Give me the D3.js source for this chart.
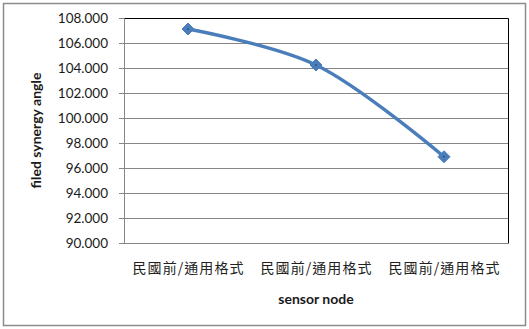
<!DOCTYPE html>
<html>
<head>
<meta charset="utf-8">
<script src="https://cdn.jsdelivr.net/npm/d3@7"></script>
<style>
  body { margin: 0; background: #fff; }
  text { font-family: Lato, "Open Sans", sans-serif; }
</style>
</head>
<body>
<svg id="chart" width="529" height="329"></svg>
<script>
// data
var categories = ["民國前/通用格式 ", "民國前/通用格式  ", "民國前/通用格式   "];
var values = [107.12, 104.24, 96.9];
var yTicks = [90, 92, 94, 96, 98, 100, 102, 104, 106, 108];

var svg = d3.select("#chart");
var margin = {top: 18, left: 124, right: 21, bottom: 86};
var width = 529 - margin.left - margin.right,
    height = 329 - margin.top - margin.bottom;

// chart frame
svg.append("rect")
    .attr("x", 3.5).attr("y", 3.5)
    .attr("width", 522).attr("height", 322)
    .style("fill", "#fff")
    .style("stroke", "#8c8c8c")
    .style("stroke-width", 1.5);

var g = svg.append("g")
    .attr("transform", "translate(" + margin.left + "," + margin.top + ")");

var x = d3.scaleBand().domain(categories).range([0, width]);
var y = d3.scaleLinear().domain([90, 108]).range([height, 0]);

// gridlines
g.selectAll(".grid")
    .data(yTicks)
    .enter()
    .append("line")
    .attr("x1", 0).attr("x2", width)
    .attr("y1", function(d){ return Math.round(y(d)) + 0.5; })
    .attr("y2", function(d){ return Math.round(y(d)) + 0.5; })
    .style("stroke", "#868686")
    .style("stroke-width", 1);

// black top/right plot border
g.append("path")
    .attr("d", "M0,0.5H" + (width + 0.5) + "V" + (height + 0.5))
    .style("fill", "none")
    .style("stroke", "#000")
    .style("stroke-width", 1);

// y axis
var yAxis = d3.axisLeft(y)
    .tickValues(yTicks)
    .tickSize(5)
    .tickPadding(11)
    .tickFormat(d3.format(".3f"));
var ya = g.append("g").call(yAxis);
ya.select(".domain").style("stroke", "#868686");
ya.selectAll(".tick line").style("stroke", "#868686");
ya.selectAll("text")
    .style("font-family", "Lato, 'Open Sans', sans-serif")
    .style("font-size", "13.5px")
    .style("fill", "#1a1a1a");

// x axis
var xAxis = d3.axisBottom(x).tickSize(0).tickPadding(20);
var xa = g.append("g")
    .attr("transform", "translate(0," + height + ")")
    .call(xAxis);
xa.select(".domain").style("stroke", "#868686");
xa.selectAll("text")
    .text(function(d){ return d.trim(); })
    .attr("textLength", 111)
    .attr("lengthAdjust", "spacing")
    .style("font-family", "'Noto Sans CJK TC', 'Noto Sans CJK SC', sans-serif")
    .style("font-size", "14px")
    .style("fill", "#222");

// line
var line = d3.line()
    .x(function(d, i){ return x(categories[i]) + x.bandwidth() / 2; })
    .y(function(d){ return y(d); })
    .curve(d3.curveCatmullRom.alpha(0.5));

g.append("path")
    .datum(values)
    .attr("d", line)
    .style("fill", "none")
    .style("stroke", "#4a7ebb")
    .style("stroke-width", 3.5)
    .style("stroke-linejoin", "round");

// diamond markers
g.selectAll(".marker")
    .data(values)
    .enter()
    .append("path")
    .attr("class", "marker")
    .attr("transform", function(d, i){
        return "translate(" + (x(categories[i]) + x.bandwidth() / 2) + "," + y(d) + ")";
    })
    .attr("d", "M0,-6L6,0L0,6L-6,0Z")
    .style("fill", "#4a7ebb")
    .style("stroke", "#4a7ebb")
    .style("stroke-width", 1);

g.selectAll(".dot")
    .data(values)
    .enter()
    .append("rect")
    .attr("x", function(d, i){ return x(categories[i]) + x.bandwidth() / 2 - 0.5; })
    .attr("y", function(d){ return y(d) - 0.5; })
    .attr("width", 1).attr("height", 1)
    .style("fill", "#000");

// axis titles
svg.append("text")
    .attr("x", margin.left + width / 2)
    .attr("y", 304)
    .attr("text-anchor", "middle")
    .style("font-size", "14px")
    .style("font-weight", "bold")
    .style("fill", "#1a1a1a")
    .text("sensor node");

svg.append("text")
    .attr("transform", "translate(41," + (margin.top + height / 2) + ") rotate(-90)")
    .attr("text-anchor", "middle")
    .style("font-size", "14px")
    .style("font-weight", "bold")
    .style("fill", "#1a1a1a")
    .text("filed synergy angle");
</script>
</body>
</html>
